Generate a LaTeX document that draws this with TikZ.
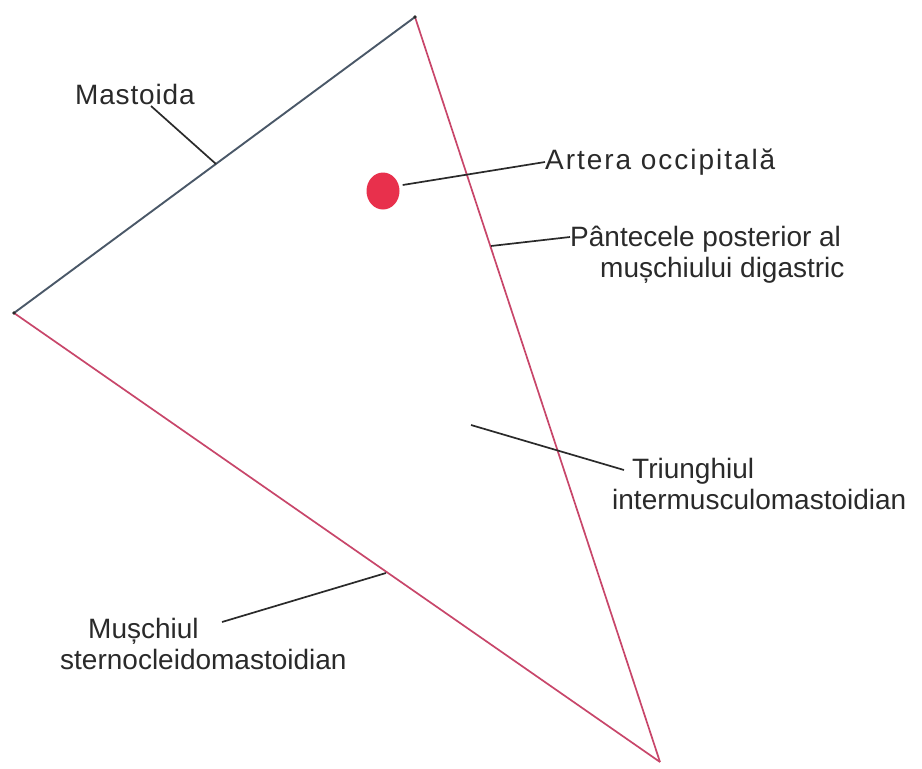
\documentclass[tikz,border=0pt]{standalone}
\usepackage{fontspec}
\usetikzlibrary{shapes.geometric}
\setmainfont{Liberation Sans}
\definecolor{edgeblue}{HTML}{4A5868}
\definecolor{edgered}{HTML}{C8466A}
\definecolor{dotred}{HTML}{E8304C}
\definecolor{ink}{HTML}{2A2A2A}
\tikzset{
  lbl/.style={font=\fontsize{28}{31}\selectfont, text=ink, inner sep=0pt, align=left},
  leader/.style={draw=ink, line width=1.7pt},
  redge/.style={draw=edgered, line width=1.7pt},
  bedge/.style={draw=edgeblue, line width=1.9pt}
}
\begin{document}
\begin{tikzpicture}[x=1pt,y=-1pt]
\useasboundingbox (0,0) rectangle (922,769);
\fill[white] (0,0) rectangle (922,769);
% vertices
\coordinate (T) at (415,17);
\coordinate (L) at (14,313);
\coordinate (B) at (660,762);
\draw[redge] (T) -- (B);
\draw[redge] (L) -- (B);
\draw[bedge] (L) -- (T);
\fill[ink] (T) circle (1.8);
\fill[ink] (L) circle (1.8);
% dot
\node[ellipse, fill=dotred, minimum width=33pt, minimum height=37pt, inner sep=0pt, draw=none] (dot) at (383,191) {};
% labels
\node[lbl, anchor=west] (mast) at (75,94) {\addfontfeature{LetterSpace=3}Mastoida};
\coordinate (mastE) at (216,164);
\draw[leader] (151,106) -- (mastE);

\node[lbl, anchor=west] (art) at (545,162) {\addfontfeature{LetterSpace=7}Artera occipitală};
\draw[leader] (dot.east) ++(3,-6) coordinate (dotE) -- (art.west);

\node[lbl, anchor=north west] (pant) at (570,226) {Pântecele posterior al\\\hspace*{30pt}mușchiului digastric};
\coordinate (pantE) at (491,246);
\draw[leader] (pantE) -- (pant.west |- 0,237);

\node[lbl, anchor=north west] (tri) at (612,458) {\hspace*{20pt}Triunghiul\\intermusculomastoidian};
\coordinate (triS) at (471,425);
\draw[leader] (triS) -- (624,470);

\node[lbl, anchor=north west] (sterno) at (60,618) {\hspace*{28pt}Mușchiul\\sternocleidomastoidian};
\coordinate (sternoE) at (386,573);
\draw[leader] (sternoE) -- (222,622);
\end{tikzpicture}
\end{document}
